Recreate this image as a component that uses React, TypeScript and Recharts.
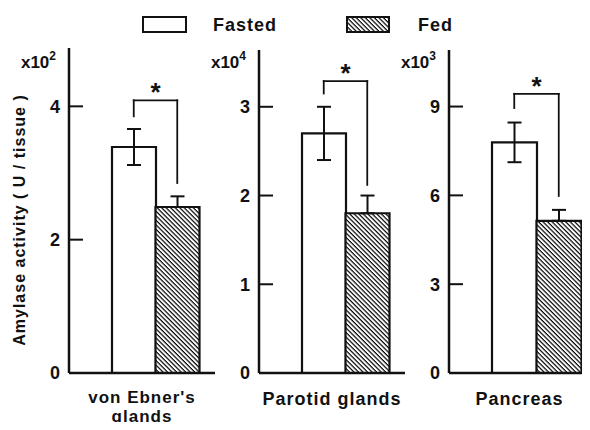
import { Bar, BarChart, Cell, ErrorBar, Label, ReferenceLine, XAxis, YAxis } from "recharts";

// amylase activity per tissue, fasted vs fed (mean ± error)
const groups = ["Fasted", "Fed"];
const tissueLines = [["von Ebner's", "glands"], ["Parotid glands"], ["Pancreas"]];
const fastedMean = [3.39, 2.7, 7.79];
const fastedErr = [0.27, 0.3, 0.67];
const fedMean = [2.49, 1.8, 5.14];
const fedErr = [0.16, 0.2, 0.37];
const yTicks = [[0, 2, 4], [0, 1, 2, 3], [0, 3, 6, 9]];
const yMax = [4.875, 3.64, 10.91];
const yExponent = ["2", "4", "3"];
// significance bracket (data units)
const bracketTop = [4.09, 3.29, 9.43];
const bracketLeftEnd = [3.85, 3.15, 8.95];
const bracketRightEnd = [2.85, 2.12, 5.98];

const FONT = "'Liberation Sans', Arial, sans-serif";
const INK = "#111";

const panels = [
  { left: 0, width: 230, top: 48, right: 15, axisW: 69, padL: 43, padR: 16 },
  { left: 200, width: 215, top: 50, right: 10, axisW: 59, padL: 43, padR: 16 },
  { left: 390, width: 200, top: 50, right: 0, axisW: 59, padL: 43, padR: 9 },
];

function Hatch({ id }: { id: string }) {
  return (
    <pattern id={id} patternUnits="userSpaceOnUse" width={3.2} height={3.2} patternTransform="rotate(45)">
      <rect width={3.2} height={3.2} fill="#fff" />
      <line x1={0} y1={0.6} x2={3.2} y2={0.6} stroke="#000" strokeWidth={1.2} />
    </pattern>
  );
}

function YTick(props: any) {
  const { x, y, payload } = props;
  return (
    <g>
      <line x1={x} x2={x + 14} y1={y} y2={y} stroke={INK} strokeWidth={2} />
      <text x={x - 9} y={y} dy="0.36em" textAnchor="end" fontFamily={FONT} fontWeight="bold" fontSize={18} fill={INK}>
        {payload.value}
      </text>
    </g>
  );
}

const Star = (p: any) => {
  const vb = p.viewBox || { x: 0, y: 0, width: 0 };
  return (
    <text x={vb.x + (vb.width || 0) / 2} y={vb.y + 1} textAnchor="middle" fontFamily={FONT} fontWeight="bold" fontSize={26} fill={INK}>
      *
    </text>
  );
};

function Panel({ i }: { i: number }) {
  const p = panels[i];
  const data = [
    { group: groups[0], value: fastedMean[i], err: [fastedErr[i], fastedErr[i]] },
    { group: groups[1], value: fedMean[i], err: [0, fedErr[i]] },
  ];
  const lines = tissueLines[i];
  const two = lines.length > 1;
  const seg = { stroke: INK, strokeWidth: 1.8, strokeLinecap: "square" as const };
  return (
    <div style={{ position: "absolute", left: p.left, top: 0 }}>
      <BarChart
        width={p.width}
        height={430}
        data={data}
        margin={{ top: p.top, right: p.right, bottom: 0, left: 0 }}
        barCategoryGap={0}
        barGap={0}
      >
        <defs>
          <Hatch id={`hatch-${i}`} />
        </defs>
        <XAxis
          dataKey="group"
          tick={false}
          tickLine={false}
          axisLine={{ stroke: INK, strokeWidth: 2.5 }}
          padding={{ left: p.padL, right: p.padR }}
          height={57}
        >
          <Label
            content={(lp: any) => {
              const vb = lp.viewBox;
              const cx = vb.x + vb.width / 2;
              return (
                <g>
                  {lines.map((t, k) => (
                    <text
                      key={k}
                      x={cx}
                      y={vb.y + (two ? 30 + k * 19 : 32)}
                      textAnchor="middle"
                      fontFamily={FONT}
                      fontWeight="bold"
                      fontSize={two ? 17 : 18}
                      letterSpacing={1}
                      fill={INK}
                    >
                      {t}
                    </text>
                  ))}
                </g>
              );
            }}
          />
        </XAxis>
        <YAxis
          type="number"
          domain={[0, yMax[i]]}
          ticks={yTicks[i]}
          width={p.axisW}
          tick={<YTick />}
          tickLine={false}
          tickSize={0}
          tickMargin={0}
          axisLine={{ stroke: INK, strokeWidth: 2.5 }}
        >
          <Label
            content={(lp: any) => {
              const vb = lp.viewBox;
              const ax = vb.x + vb.width;
              return (
                <text x={ax - 13} y={68} textAnchor="end" fontFamily={FONT} fontWeight="bold" fontSize={17} fill={INK}>
                  x10
                  <tspan dy={-8} fontSize={12}>
                    {yExponent[i]}
                  </tspan>
                </text>
              );
            }}
          />
          {i === 0 && (
            <Label
              content={() => (
                <text
                  x={25}
                  y={220}
                  transform="rotate(-90 25 220)"
                  textAnchor="middle"
                  fontFamily={FONT}
                  fontWeight="bold"
                  fontSize={16}
                  letterSpacing={1}
                  fill={INK}
                >
                  Amylase activity ( U / tissue )
                </text>
              )}
            />
          )}
        </YAxis>
        <Bar dataKey="value" isAnimationActive={false} stroke={INK} strokeWidth={2.2}>
          <Cell fill="#fff" />
          <Cell fill={`url(#hatch-${i})`} />
          <ErrorBar dataKey="err" width={7} stroke={INK} strokeWidth={2} isAnimationActive={false} />
        </Bar>
        <ReferenceLine
          segment={[
            { x: groups[0], y: bracketLeftEnd[i] },
            { x: groups[0], y: bracketTop[i] },
          ]}
          {...seg}
        />
        <ReferenceLine
          segment={[
            { x: groups[0], y: bracketTop[i] },
            { x: groups[1], y: bracketTop[i] },
          ]}
          {...seg}
          label={Star}
        />
        <ReferenceLine
          segment={[
            { x: groups[1], y: bracketTop[i] },
            { x: groups[1], y: bracketRightEnd[i] },
          ]}
          {...seg}
        />
      </BarChart>
    </div>
  );
}

function LegendStrip() {
  const txt = { fontFamily: FONT, fontWeight: "bold" as const, fontSize: 18, fill: INK, letterSpacing: 1 };
  return (
    <svg width={590} height={45} style={{ position: "absolute", left: 0, top: 0 }}>
      <defs>
        <Hatch id="hatch-legend" />
      </defs>
      <rect x={143} y={17} width={43} height={15} fill="#fff" stroke={INK} strokeWidth={2} />
      <text x={213} y={31} {...txt}>
        {groups[0]}
      </text>
      <rect x={347} y={17} width={42} height={15} fill="url(#hatch-legend)" stroke={INK} strokeWidth={2} />
      <text x={418} y={31} {...txt}>
        {groups[1]}
      </text>
    </svg>
  );
}

export default function App() {
  return (
    <div style={{ position: "relative", width: 590, height: 430, margin: -8, background: "#fff", overflow: "hidden" }}>
      <Panel i={0} />
      <Panel i={1} />
      <Panel i={2} />
      <LegendStrip />
    </div>
  );
}
